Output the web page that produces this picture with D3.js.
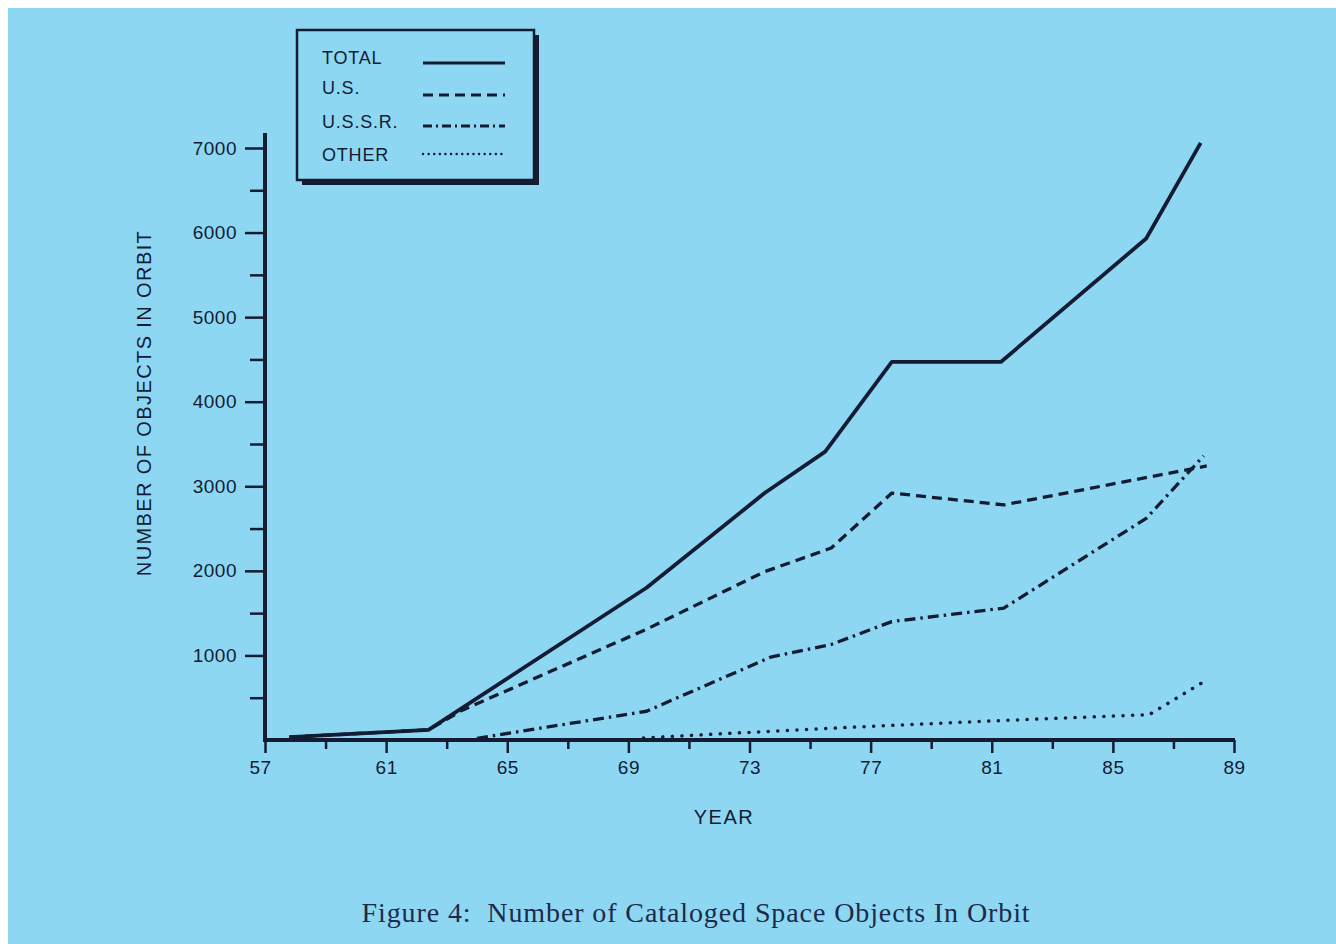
<!DOCTYPE html>
<html>
<head>
<meta charset="utf-8">
<script src="https://cdn.jsdelivr.net/npm/d3@7"></script>
<style>
  html, body { margin: 0; padding: 0; background: #ffffff; }
  svg { display: block; }
</style>
</head>
<body>
<svg id="chart" width="1336" height="944"></svg>
<script>
// ---- data ----
const totalYears = [57.8, 62.4, 69.6, 73.5, 75.5, 77.7, 81.3, 86.1, 87.9];
const totalValues = [35, 120, 1800, 2920, 3410, 4470, 4470, 5930, 7060];

const usYears = [57.8, 62.4, 63.5, 69.6, 73.5, 75.7, 77.7, 81.4, 88.1];
const usValues = [35, 120, 350, 1310, 1990, 2270, 2920, 2780, 3240];

const ussrYears = [64.0, 69.6, 73.7, 75.7, 77.7, 81.4, 86.1, 88.0];
const ussrValues = [20, 340, 980, 1130, 1400, 1560, 2620, 3360];

const otherYears = [69.5, 72.7, 76.6, 81.3, 86.2, 88.1];
const otherValues = [25, 85, 155, 230, 300, 710];

const seriesNames = ["TOTAL", "U.S.", "U.S.S.R.", "OTHER"];
const xMajorTicks = [57, 61, 65, 69, 73, 77, 81, 85, 89];
const xMinorTicks = [59, 63, 67, 71, 75, 79, 83, 87];
const yMajorTicks = [1000, 2000, 3000, 4000, 5000, 6000, 7000];
const yMinorTicks = [500, 1500, 2500, 3500, 4500, 5500, 6500];

const xTitle = "YEAR";
const yTitle = "NUMBER OF OBJECTS IN ORBIT";
const caption = "Figure 4:  Number of Cataloged Space Objects In Orbit";

// ---- drawing ----
const ink = "#141c33";
const bg = "#8dd7f3";
const svg = d3.select("#chart");

svg.append("rect").attr("x", 8).attr("y", 8).attr("width", 1328).attr("height", 936)
  .attr("fill", bg);

const x = d3.scaleLinear().domain([57, 89]).range([265, 1234]);
const y = d3.scaleLinear().domain([0, 7000]).range([740, 148]);

const font = "'Liberation Sans', Arial, Helvetica, sans-serif";

// y axis
const yAxisG = svg.append("g").attr("transform", `translate(${x(57)},0)`);
yAxisG.call(d3.axisLeft(y).tickValues(yMajorTicks).tickSize(20).tickPadding(8).tickFormat(d3.format("d")));
const yMinorG = svg.append("g").attr("transform", `translate(${x(57)},0)`);
yMinorG.call(d3.axisLeft(y).tickValues(yMinorTicks).tickSize(15).tickFormat(""));

// x axis
const xAxisG = svg.append("g").attr("transform", `translate(0,${y(0)})`);
xAxisG.call(d3.axisBottom(x).tickValues(xMajorTicks).tickSize(13).tickPadding(8).tickFormat(d3.format("d")));
const xMinorG = svg.append("g").attr("transform", `translate(0,${y(0)})`);
xMinorG.call(d3.axisBottom(x).tickValues(xMinorTicks).tickSize(9).tickFormat(""));

[yAxisG, yMinorG, xAxisG, xMinorG].forEach(g => {
  g.select(".domain").remove();
  g.selectAll("line").attr("stroke", ink).attr("stroke-width", 2.5);
  g.selectAll("text").attr("fill", ink).attr("font-family", font).attr("font-size", 19)
    .attr("letter-spacing", 0.5);
});
xAxisG.selectAll(".tick").filter(d => d === 57).select("text").attr("dx", -5);

// axis lines
svg.append("line").attr("x1", x(57)).attr("x2", x(57)).attr("y1", 133).attr("y2", y(0) + 2)
  .attr("stroke", ink).attr("stroke-width", 4);
svg.append("line").attr("x1", x(57) - 1).attr("x2", x(89) + 1).attr("y1", y(0)).attr("y2", y(0))
  .attr("stroke", ink).attr("stroke-width", 4);

// axis titles
svg.append("text").attr("x", 724).attr("y", 824).attr("text-anchor", "middle")
  .attr("font-family", font).attr("font-size", 20).attr("letter-spacing", 1.5)
  .attr("fill", ink).text(xTitle);
svg.append("text").attr("transform", "translate(151,403) rotate(-90)").attr("text-anchor", "middle")
  .attr("font-family", font).attr("font-size", 20).attr("letter-spacing", 1.4)
  .attr("fill", ink).text(yTitle);

// lines
const styles = [
  { w: 3.8, dash: null, cap: "butt" },
  { w: 3.3, dash: "10,6", cap: "butt" },
  { w: 3.3, dash: "11,5,2.5,5", cap: "butt" },
  { w: 3.5, dash: "0.1,9.5", cap: "round" }
];
const seriesData = [
  totalYears.map((d, i) => [d, totalValues[i]]),
  usYears.map((d, i) => [d, usValues[i]]),
  ussrYears.map((d, i) => [d, ussrValues[i]]),
  otherYears.map((d, i) => [d, otherValues[i]])
];
const line = d3.line().x(d => x(d[0])).y(d => y(d[1]));
seriesData.forEach((data, i) => {
  svg.append("path").datum(data).attr("d", line)
    .attr("fill", "none").attr("stroke", ink).attr("stroke-width", styles[i].w)
    .attr("stroke-linejoin", "round").attr("stroke-linecap", styles[i].cap)
    .attr("stroke-dasharray", styles[i].dash);
});

// legend box
const lg = svg.append("g");
lg.append("rect").attr("x", 302).attr("y", 35).attr("width", 237).attr("height", 150).attr("fill", ink);
lg.append("rect").attr("x", 297).attr("y", 30).attr("width", 237).attr("height", 150)
  .attr("fill", bg).attr("stroke", ink).attr("stroke-width", 2.5);
const legendTextY = [64, 94, 128, 161];
const legendLineY = [63, 95, 126, 154];
seriesNames.forEach((name, i) => {
  lg.append("text").attr("x", 322).attr("y", legendTextY[i]).attr("font-family", font)
    .attr("font-size", 18).attr("letter-spacing", 0.8).attr("fill", ink).text(name);
  lg.append("line").attr("x1", 423).attr("x2", 505).attr("y1", legendLineY[i]).attr("y2", legendLineY[i])
    .attr("stroke", ink).attr("stroke-width", i === 3 ? 2.4 : 2.8)
    .attr("stroke-linecap", styles[i].cap)
    .attr("stroke-dasharray", i === 3 ? "0.1,5.5" : (i === 2 ? "9,4,2,4" : styles[i].dash));
});

// caption
svg.append("text").attr("x", 696).attr("y", 922).attr("text-anchor", "middle")
  .attr("font-family", "'Liberation Serif', 'Times New Roman', serif").attr("font-size", 28)
  .attr("letter-spacing", 0.9)
  .attr("fill", "#1d2a4a").style("white-space", "pre").text(caption);
</script>
</body>
</html>
